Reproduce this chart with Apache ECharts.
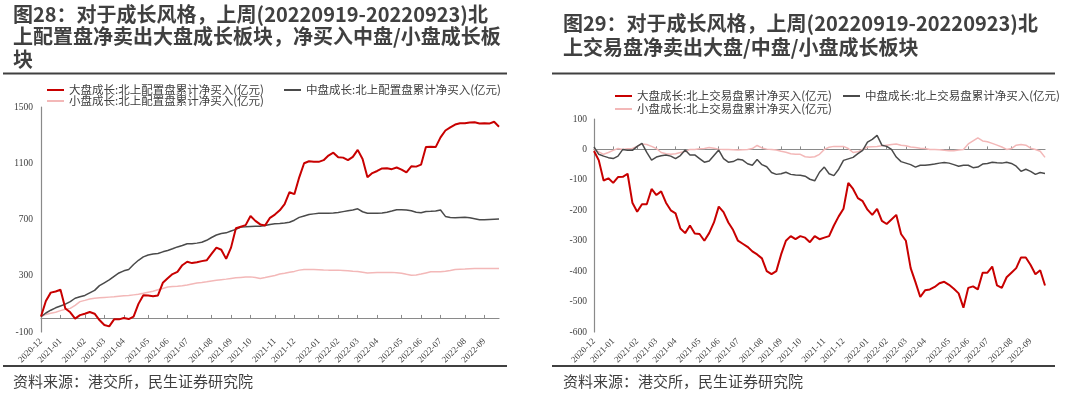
<!DOCTYPE html>
<html><head><meta charset="utf-8">
<script src="https://cdn.jsdelivr.net/npm/echarts@6/dist/echarts.min.js"></script>
<style>html,body{margin:0;padding:0;background:#fff}#c{width:1080px;height:393px}</style>
</head><body><div id="c"></div>
<script>
// Weekly dates (Fridays)
const dates = [
'2020-12-04','2020-12-11','2020-12-18','2020-12-25',
'2021-01-01','2021-01-08','2021-01-15','2021-01-22','2021-01-29',
'2021-02-05','2021-02-12','2021-02-19','2021-02-26',
'2021-03-05','2021-03-12','2021-03-19','2021-03-26',
'2021-04-02','2021-04-09','2021-04-16','2021-04-23','2021-04-30',
'2021-05-07','2021-05-14','2021-05-21','2021-05-28',
'2021-06-04','2021-06-11','2021-06-18','2021-06-25',
'2021-07-02','2021-07-09','2021-07-16','2021-07-23','2021-07-30',
'2021-08-06','2021-08-13','2021-08-20','2021-08-27',
'2021-09-03','2021-09-10','2021-09-17','2021-09-24',
'2021-10-01','2021-10-08','2021-10-15','2021-10-22','2021-10-29',
'2021-11-05','2021-11-12','2021-11-19','2021-11-26',
'2021-12-03','2021-12-10','2021-12-17','2021-12-24','2021-12-31',
'2022-01-07','2022-01-14','2022-01-21','2022-01-28',
'2022-02-04','2022-02-11','2022-02-18','2022-02-25',
'2022-03-04','2022-03-11','2022-03-18','2022-03-25',
'2022-04-01','2022-04-08','2022-04-15','2022-04-22','2022-04-29',
'2022-05-06','2022-05-13','2022-05-20','2022-05-27',
'2022-06-03','2022-06-10','2022-06-17','2022-06-24',
'2022-07-01','2022-07-08','2022-07-15','2022-07-22','2022-07-29',
'2022-08-05','2022-08-12','2022-08-19','2022-08-26',
'2022-09-02','2022-09-09','2022-09-16','2022-09-23'
];

// 图28: 北上配置盘累计净买入(亿元)
const allocLarge = [10,120,180,188,200,67,40,-5,20,30, 42,30,-15,-50,-60,-10,-10,0,-8,10, 100,162,160,155,160,250,282,312,327,375, 400,390,396,404,410,455,500,485,420,500, 638,649,660,725,690,665,658,712,735,765, 810,894,880,1000,1100,1114,1110,1110,1122,1155, 1175,1142,1140,1122,1145,1195,1130,1000,1030,1045, 1063,1065,1058,1070,1055,1035,1078,1076,1090,1215, 1218,1215,1284,1333,1355,1375,1384,1384,1390,1392, 1383,1385,1382,1395,1360];
const allocMid = [10,35,55,72,85,98,116,140,150,160, 178,196,230,250,270,295,320,335,345,380, 410,434,448,455,458,470,480,492,505,515, 528,528,532,538,552,572,590,600,605,618, 630,647,648,650,652,652,657,665,670,672, 675,680,695,715,725,735,740,744,745,745, 747,750,756,762,768,776,755,745,745,745, 747,752,760,770,770,768,762,752,748,757, 758,760,768,722,715,712,714,716,712,705, 698,698,700,702,703];
const allocSmall = [9,25,33,40,52,62,68,90,116,125, 135,140,143,146,148,150,154,157,160,164, 168,175,183,190,200,210,220,224,226,229, 235,242,248,252,257,263,268,272,276,281, 285,288,291,292,288,281,287,295,302,312, 318,325,331,340,345,345,345,343,341,340, 340,340,338,335,332,330,325,320,322,323, 323,323,324,322,318,310,304,305,312,320, 328,328,328,332,338,345,347,348,350,352, 352,351,352,352,352];

// 图29: 北上交易盘累计净买入(亿元)
const tradeLarge = [-5,-36,-102,-95,-110,-91,-90,-80,-175,-205, -180,-180,-130,-150,-138,-175,-200,-210,-260,-275, -250,-276,-278,-300,-275,-240,-188,-206,-240,-265, -300,-310,-320,-335,-345,-358,-400,-410,-400,-345, -300,-285,-295,-285,-290,-305,-285,-295,-290,-285, -250,-220,-195,-110,-130,-160,-170,-198,-215,-195, -235,-245,-230,-215,-278,-300,-390,-436,-485,-463, -460,-452,-440,-435,-445,-458,-473,-520,-455,-450, -460,-405,-405,-385,-447,-455,-420,-405,-390,-355, -355,-380,-410,-397,-447];
const tradeMid = [8,-16,-22,-27,-30,-22,0,-3,-3,10, 20,-10,-35,-25,-21,-18,-22,-30,-20,-2, -18,-18,-30,-42,-38,-20,-2,-30,-42,-40, -32,-35,-47,-52,-33,-50,-57,-76,-82,-80, -75,-82,-84,-85,-88,-98,-103,-75,-58,-80, -86,-65,-36,-31,-26,-14,-3,24,33,46, 14,10,0,-25,-40,-45,-50,-58,-52,-52, -50,-48,-45,-43,-45,-50,-55,-52,-52,-60, -58,-48,-46,-42,-44,-45,-42,-46,-55,-72, -65,-72,-82,-76,-79];
const tradeSmall = [0,-8,-16,-10,-3,3,0,2,3,10, 18,16,10,3,-10,-14,-16,-14,-10,-7, 0,0,2,3,6,4,1,0,0,-1, -2,-1,0,3,13,5,1,0,-2,-6, -9,-14,-16,-16,-24,-26,-24,-16,0,7, 10,10,10,3,-10,-8,0,8,9,10, 12,14,16,18,14,12,8,6,4,3, 0,0,-1,-3,-4,-4,-2,0,18,28, 38,28,25,20,14,8,0,3,14,16, 14,4,0,-6,-26];

const leftNames = ['大盘成长:北上配置盘累计净买入(亿元)','中盘成长:北上配置盘累计净买入(亿元)','小盘成长:北上配置盘累计净买入(亿元)'];
const rightNames = ['大盘成长:北上交易盘累计净买入(亿元)','中盘成长:北上交易盘累计净买入(亿元)','小盘成长:北上交易盘累计净买入(亿元)'];
const leftTitle = '图28：对于成长风格，上周(20220919-20220923)北\n上配置盘净卖出大盘成长板块，净买入中盘/小盘成长板\n块';
const rightTitle = '图29：对于成长风格，上周(20220919-20220923)北\n上交易盘净卖出大盘/中盘/小盘成长板块';
const sourceText = '资料来源：港交所，民生证券研究院';

const RED = '#c80000', GRAY = '#4a4a4a', PINK = '#f3b8b8', TXT = '#404040';
const CJK = '"Noto Sans CJK SC","Noto Sans",sans-serif';
const SERIF = '"Liberation Serif","DejaVu Serif",serif';

function isMonthStart(i){ return i === 0 || dates[i].slice(0,7) !== dates[i-1].slice(0,7); }

function xAxes(gridIndex){
  return [
    {type:'category', gridIndex, data:dates, boundaryGap:false, position:'bottom',
     axisLine:{onZero:true, lineStyle:{color:'#8a8a8a', width:1.2}},
     axisTick:{inside:true, length:3, interval:(i)=>isMonthStart(i), lineStyle:{color:'#8a8a8a'}},
     axisLabel:{show:false}, splitLine:{show:false}},
    {type:'category', gridIndex, data:dates, boundaryGap:false, position:'bottom',
     axisLine:{show:false, onZero:false}, axisTick:{show:false}, splitLine:{show:false},
     axisLabel:{interval:(i)=>isMonthStart(i), rotate:45, formatter:(v)=>v.slice(0,7),
       fontFamily:SERIF, fontSize:9, color:TXT, margin:8}}
  ];
}
function yAxis(gridIndex, min, max, interval, margin){
  return {type:'value', gridIndex, min, max, interval,
    axisLine:{show:true, lineStyle:{color:'#8a8a8a', width:1.2}},
    axisTick:{show:false}, splitLine:{show:false},
    axisLabel:{fontFamily:SERIF, fontSize:9.5, color:TXT, margin, formatter:(v)=>String(v)}};
}
function line(name, data, color, width, xi, yi, z){
  return {name, type:'line', data, xAxisIndex:xi, yAxisIndex:yi, symbol:'none',
    lineStyle:{color, width}, itemStyle:{color}, z, silent:true};
}
function legend(name, left, top){
  return {orient:'horizontal', icon:'rect', itemWidth:17, itemHeight:2, padding:0, left, top,
    data:[name], textStyle:{fontFamily:CJK, fontSize:11.5, color:TXT, lineHeight:12}};
}

const chart = echarts.init(document.getElementById('c'));
chart.setOption({
  animation:false,
  backgroundColor:'#fff',
  title:[
    {text:leftTitle, left:13, top:3, padding:0, textStyle:{fontFamily:CJK, fontSize:20, fontWeight:'bold', color:TXT, lineHeight:22.5}},
    {text:rightTitle, left:563, top:11, padding:0, textStyle:{fontFamily:CJK, fontSize:20, fontWeight:'bold', color:TXT, lineHeight:24}},
    {text:sourceText, left:13, top:373, padding:0, textStyle:{fontFamily:CJK, fontSize:15, fontWeight:'normal', color:TXT, lineHeight:16}},
    {text:sourceText, left:563, top:373, padding:0, textStyle:{fontFamily:CJK, fontSize:15, fontWeight:'normal', color:TXT, lineHeight:16}}
  ],
  graphic:[
    {type:'rect', shape:{x:3, y:72.5, width:504, height:2}, style:{fill:'#404040'}},
    {type:'rect', shape:{x:552, y:72.5, width:503, height:2}, style:{fill:'#404040'}},
    {type:'rect', shape:{x:3, y:365, width:504, height:2}, style:{fill:'#404040'}},
    {type:'rect', shape:{x:552, y:365, width:503, height:2}, style:{fill:'#404040'}}
  ],
  legend:[
    legend(leftNames[0], 47, 84),
    legend(leftNames[1], 284, 84),
    legend(leftNames[2], 47, 95),
    legend(rightNames[0], 615, 90),
    legend(rightNames[1], 843, 90),
    legend(rightNames[2], 615, 103)
  ],
  grid:[
    {left:41, top:107, width:458, height:225},
    {left:594, top:119, width:451, height:213}
  ],
  xAxis:[...xAxes(0), ...xAxes(1)],
  yAxis:[yAxis(0, -100, 1500, 400, 8), yAxis(1, -600, 100, 100, 7)],
  series:[
    line(leftNames[2], allocSmall, PINK, 1.5, 0, 0, 2),
    line(leftNames[1], allocMid, GRAY, 1.5, 0, 0, 3),
    line(leftNames[0], allocLarge, RED, 2, 0, 0, 4),
    line(rightNames[2], tradeSmall, PINK, 1.5, 2, 1, 2),
    line(rightNames[1], tradeMid, GRAY, 1.5, 2, 1, 3),
    line(rightNames[0], tradeLarge, RED, 2, 2, 1, 4)
  ]
});
</script></body></html>
